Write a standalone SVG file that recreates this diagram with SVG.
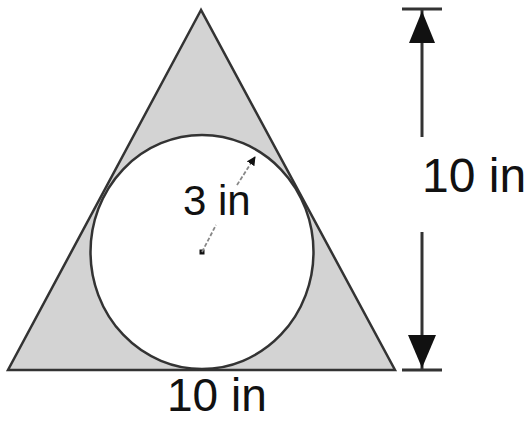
<svg xmlns="http://www.w3.org/2000/svg" width="528" height="421" viewBox="0 0 528 421">
<style>
.shape{stroke:#333;stroke-width:2.5;stroke-linejoin:miter}
.lbl{font-family:"Liberation Sans",Arial,sans-serif;fill:#111}
.dim{stroke:#333;stroke-width:3;fill:none}
.rad{stroke:#888;stroke-width:1.8;stroke-dasharray:4 2;fill:none}
</style>
<defs>
<marker id="ah" viewBox="0 0 10 10" refX="9" refY="5" markerWidth="5" markerHeight="5" orient="auto" markerUnits="strokeWidth">
<path d="M0,0 L10,5 L0,10 z" fill="#111"/>
</marker>
</defs>
<rect width="528" height="421" fill="#fff"/>
<g id="triangle">
<polygon class="shape" points="201,10 8,370 395,370" fill="#d3d3d3"/>
</g>
<g id="circle">
<ellipse class="shape" cx="202" cy="252" rx="111.5" ry="117" fill="#fff" stroke-width="2.2"/>
<rect x="199.5" y="249.5" width="5" height="5" fill="#111"/>
</g>
<g id="connectors">
<line class="rad" x1="202" y1="252" x2="216" y2="225"/>
<line class="rad" x1="237" y1="185" x2="255" y2="157" marker-end="url(#ah)"/>
<line class="dim" x1="422" y1="10" x2="422" y2="137"/>
<line class="dim" x1="422" y1="232" x2="422" y2="370"/>
<line class="dim" x1="402" y1="9" x2="442" y2="9"/>
<line class="dim" x1="402" y1="370" x2="442" y2="370"/>
<polygon points="422,11 409,43 435,43" fill="#111"/>
<polygon points="422,368 408,335 436,335" fill="#111"/>
</g>
<g id="labels">
<text class="lbl" x="183" y="215" font-size="42">3 in</text>
<text class="lbl" x="422" y="192" font-size="48">10 in</text>
<text class="lbl" x="167" y="411" font-size="46">10 in</text>
</g>
</svg>
